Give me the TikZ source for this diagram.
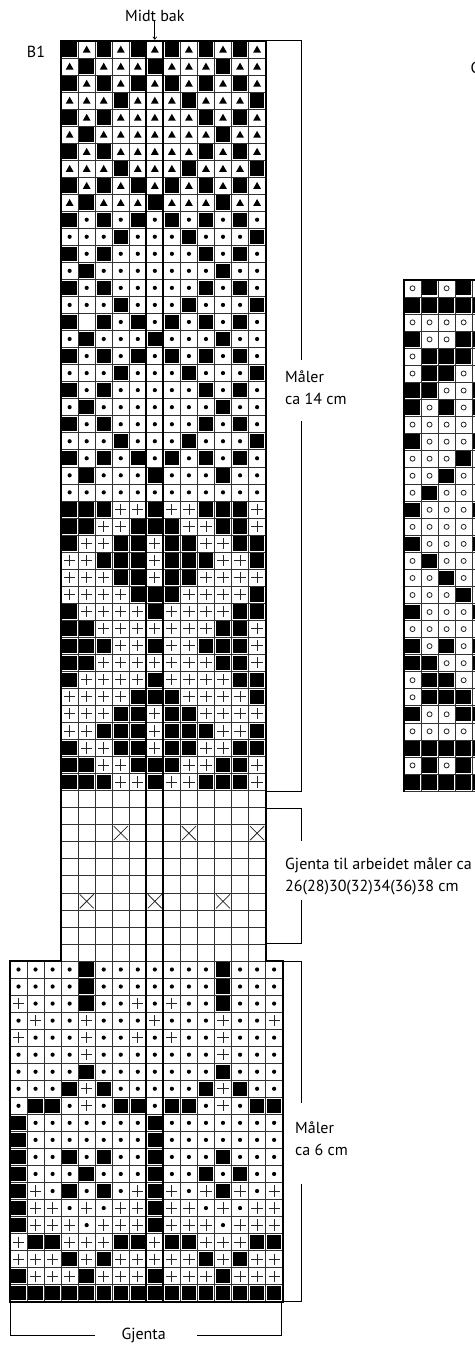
\documentclass[tikz,border=0pt]{standalone}
\usepackage{fontspec}
\setmainfont{PT Sans}
\usetikzlibrary{arrows.meta}

% cell symbols, called with the cell centre
\newcommand\cellK[2]{\fill (#1-7.2,#2-7.2) rectangle (#1+7.2,#2+7.2);}
\newcommand\cellT[2]{\fill (#1-3.9,#2+3.2) -- (#1+3.9,#2+3.2) -- (#1,#2-3.7) -- cycle;}
\newcommand\cellD[2]{\fill (#1,#2) circle (2.1pt);}
\newcommand\cellP[2]{\draw[symline] (#1-5.6,#2) -- (#1+5.6,#2) (#1,#2-5.6) -- (#1,#2+5.6);}
\newcommand\cellX[2]{\draw[symline] (#1-7,#2-7) -- (#1+7,#2+7) (#1-7,#2+7) -- (#1+7,#2-7);}
\newcommand\cellC[2]{\draw[symline] (#1,#2) circle (2.5pt);}
\newcommand\cellO[2]{}

\tikzset{
  symline/.style={line width=0.8pt,black!85},
  gridln/.style={line width=0.6pt,black!80},
  frame/.style={line width=2.2pt,line cap=rect},
  brk/.style={line width=0.7pt},
  lbl/.style={font=\fontsize{16}{22}\selectfont,inner sep=0pt}
}

\begin{document}
\begin{tikzpicture}[x=1pt,y=-1pt]
\useasboundingbox (0,0) rectangle (474,1347);
\def\cw{17.04}
\def\ux{61.12}  \def\uy{40.8}   % upper chart (12 wide, 54 high)
\def\lx{10}     \def\ly{960.96} % lower chart (16 wide, 20 high)
\def\kx{404}    \def\ky{279.76} % chart C (5 wide, 30 high)

% --- grid lines ---
\foreach \i in {0,...,12}
  \draw[gridln] (\ux+\i*\cw,\uy) -- (\ux+\i*\cw,\ly);
\foreach \j in {0,...,54}
  \draw[gridln] (\ux,\uy+\j*\cw) -- (\ux+12*\cw,\uy+\j*\cw);
\foreach \i in {0,...,16}
  \draw[gridln] (\lx+\i*\cw,\ly) -- (\lx+\i*\cw,\ly+20*\cw);
\foreach \j in {0,...,20}
  \draw[gridln] (\lx,\ly+\j*\cw) -- (\lx+16*\cw,\ly+\j*\cw);
\foreach \i in {0,...,5}
  \draw[gridln] (\kx+\i*\cw,\ky) -- (\kx+\i*\cw,\ky+30*\cw);
\foreach \j in {0,...,30}
  \draw[gridln] (\kx,\ky+\j*\cw) -- (\kx+5*\cw,\ky+\j*\cw);

% --- upper chart B1 ---
\foreach \rowdata [count=\r] in {
  {K,T,K,T,K,T,K,T,K,T,K,T},{T,K,T,T,T,K,T,T,T,K,T,T},
  {K,T,K,T,K,T,K,T,K,T,K,T},{T,T,T,K,T,T,T,K,T,T,T,K},
  {K,T,K,T,T,T,T,T,K,T,K,T},{T,K,T,T,T,T,T,T,T,K,T,T},
  {K,T,K,T,T,T,T,T,K,T,K,T},{T,T,T,K,T,T,T,K,T,T,T,K},
  {K,T,K,T,K,T,K,T,K,T,K,T},{T,K,T,T,T,K,T,T,T,K,T,T},
  {K,D,K,D,K,D,K,D,K,D,K,D},{D,D,D,K,D,D,D,K,D,D,D,K},
  {K,D,K,D,D,D,D,D,K,D,K,D},{D,K,D,D,D,D,D,D,D,K,D,D},
  {K,D,K,D,D,D,D,D,K,D,K,D},{D,D,D,K,D,D,D,K,D,D,D,K},
  {K,O,K,D,K,D,K,D,K,D,K,D},{D,K,D,D,D,K,D,D,D,K,D,D},
  {K,D,K,D,K,D,K,D,K,D,K,D},{D,D,D,K,D,D,D,K,D,D,D,K},
  {K,D,K,D,D,D,D,D,K,D,K,D},{D,K,D,D,D,D,D,D,D,K,D,D},
  {K,D,K,D,D,D,D,D,K,D,K,D},{D,D,D,K,D,D,D,K,D,D,D,K},
  {K,D,K,D,K,D,K,D,K,D,K,D},{D,K,D,D,D,K,D,D,D,K,D,D},
  {D,D,D,D,D,D,D,D,D,D,D,D},
  {K,K,K,P,P,K,P,P,K,K,K,P},{K,K,P,P,K,K,K,P,P,K,K,P},
  {K,P,P,K,K,P,K,K,P,P,K,K},{P,P,K,K,K,P,K,K,K,P,P,K},
  {P,P,P,K,K,P,K,K,P,P,P,P},{P,P,P,P,K,K,K,P,P,P,P,K},
  {K,P,P,P,P,K,P,P,P,P,K,K},{K,K,P,P,P,P,P,P,P,K,K,P},
  {K,K,K,P,P,K,P,P,K,K,K,P},
  {K,K,P,P,P,P,P,P,P,K,K,P},{K,P,P,P,P,K,P,P,P,P,K,K},
  {P,P,P,P,K,K,K,P,P,P,P,K},{P,P,P,K,K,P,K,K,P,P,P,P},
  {P,P,K,K,K,P,K,K,K,P,P,K},{K,P,P,K,K,P,K,K,P,P,K,K},
  {K,K,P,P,K,K,K,P,P,K,K,P},{K,K,K,P,P,K,P,P,K,K,K,P},
  {O,O,O,O,O,O,O,O,O,O,O,O},{O,O,O,O,O,O,O,O,O,O,O,O},
  {O,O,O,X,O,O,O,X,O,O,O,X},{O,O,O,O,O,O,O,O,O,O,O,O},
  {O,O,O,O,O,O,O,O,O,O,O,O},{O,O,O,O,O,O,O,O,O,O,O,O},
  {O,X,O,O,O,X,O,O,O,X,O,O}}{
  \foreach \s [count=\c] in \rowdata {
    \pgfmathsetmacro\px{\ux+(\c-0.5)*\cw}
    \pgfmathsetmacro\py{\uy+(\r-0.5)*\cw}
    \csname cell\s\endcsname{\px}{\py}
  }
}

% --- lower chart ---
\foreach \rowdata [count=\r] in {
  {D,D,D,D,K,D,D,D,D,D,D,D,K,D,D,D},{D,D,D,D,K,D,D,D,D,D,D,D,K,D,D,D},
  {P,D,D,D,K,D,D,P,D,P,D,D,K,D,D,D},{D,P,D,D,P,D,D,D,P,D,D,D,P,D,D,P},
  {P,D,D,D,P,D,D,P,D,P,D,D,P,D,D,D},{D,D,D,D,P,D,D,D,D,D,D,D,P,D,D,D},
  {D,D,D,D,K,D,D,D,D,D,D,D,K,D,D,D},{D,D,D,K,P,K,D,D,D,D,D,K,P,K,D,D},
  {D,K,K,D,P,D,K,K,D,K,K,D,P,D,K,K},{K,D,D,D,D,D,D,D,K,D,D,D,D,D,D,D},
  {K,D,D,D,D,D,D,D,K,D,D,D,D,D,D,D},{K,D,D,K,D,K,D,D,K,D,D,D,K,D,D,D},
  {K,D,D,D,K,D,D,D,K,D,D,K,D,K,D,D},{K,P,D,K,D,K,D,P,K,P,D,P,K,P,D,P},
  {K,P,P,D,P,D,P,P,K,P,P,D,P,D,P,P},{K,P,P,P,D,P,P,P,K,P,P,P,D,P,P,P},
  {P,K,K,P,P,P,K,K,P,K,K,P,P,P,K,K},{P,P,P,K,P,K,P,P,P,P,P,K,P,K,P,P},
  {K,P,P,P,K,P,P,P,K,P,P,P,K,P,P,P},{K,K,K,K,K,K,K,K,K,K,K,K,K,K,K,K}}{
  \foreach \s [count=\c] in \rowdata {
    \pgfmathsetmacro\px{\lx+(\c-0.5)*\cw}
    \pgfmathsetmacro\py{\ly+(\r-0.5)*\cw}
    \csname cell\s\endcsname{\px}{\py}
  }
}

% --- chart C (cut at the right edge) ---
\foreach \rowdata [count=\r] in {
  {C,K,C,K,C},{K,K,K,K,K},{C,C,C,C,C},{K,C,C,K,K},{C,K,K,K,C},
  {C,K,K,C,C},{K,K,C,C,K},{K,C,K,C,K},{C,C,C,C,C},{K,C,C,C,K},
  {C,C,C,K,C},{C,C,K,C,C},{C,K,C,C,C},{K,C,C,C,K},{C,C,C,C,C},
  {K,C,C,C,K},{C,K,C,C,C},{C,C,K,C,C},{C,C,C,K,C},{K,C,C,C,K},
  {C,C,C,C,C},{K,C,K,C,K},{K,K,C,C,K},{C,K,K,C,C},{C,K,K,K,C},
  {K,C,C,K,K},{C,C,C,C,C},{K,K,K,K,K},{C,K,C,K,C},{K,K,K,K,K}}{
  \foreach \s [count=\c] in \rowdata {
    \pgfmathsetmacro\px{\kx+(\c-0.5)*\cw}
    \pgfmathsetmacro\py{\ky+(\r-0.5)*\cw}
    \csname cell\s\endcsname{\px}{\py}
  }
}

% --- heavy outlines ---
\draw[frame] (\ux,\ly) -- (\ux,\uy) -- (\ux+12*\cw,\uy) -- (\ux+12*\cw,\ly);
\draw[frame] (\ux,\ly) -- (\lx,\ly) -- (\lx,\ly+20*\cw) -- (\lx+16*\cw,\ly+20*\cw)
  -- (\lx+16*\cw,\ly) -- (\ux+12*\cw,\ly);
\draw[frame] (\ux+5*\cw,\uy) -- (\ux+5*\cw,\ly+20*\cw);
\draw[frame] (\ux+6*\cw,\uy) -- (\ux+6*\cw,\ly+20*\cw);
\draw[frame] (\kx,\ky+30*\cw) -- (\kx,\ky) -- (480,\ky);

% --- labels ---
\node[lbl] (b1) at (36,52) {B1};
\node[lbl,anchor=west] (c1) at (470.5,68) {C1};
\node[lbl] (midt) at (\ux+5.5*\cw,15.5) {Midt bak};
\coordinate (midtpt) at (\ux+5.5*\cw,\uy-1);
\draw[brk,-{Straight Barb[length=2.5pt,width=4pt]}] (midt) -- (midtpt);

% bracket: upper patterned part
\node[lbl,align=left,anchor=west] (m14) at (285,388) {Måler\\ca 14 cm};
\coordinate (m14a) at (\ux+12*\cw,\uy);
\coordinate (m14b) at (\ux+12*\cw,790.96);
\draw[brk] (m14a) -- (301.3,\uy) -- (301.3,360);
\draw[brk] (301.3,421) -- (301.3,790.96) -- (m14b);

% bracket: plain repeat part
\node[lbl,align=left,anchor=west] (rep) at (285,876) {Gjenta til arbeidet måler ca\\26(28)30(32)34(36)38 cm};
\coordinate (repa) at (\ux+12*\cw,808);
\coordinate (repb) at (\ux+12*\cw,943);
\draw[brk] (repa) -- (301.3,808) -- (301.3,841);
\draw[brk] (301.3,900) -- (301.3,943) -- (repb);

% bracket: lower chart
\node[lbl,align=left,anchor=west] (m6) at (295,1138.5) {Måler\\ca 6 cm};
\coordinate (m6a) at (\lx+16*\cw,\ly);
\coordinate (m6b) at (\lx+16*\cw,\ly+20*\cw);
\draw[brk] (m6a) -- (301.3,\ly) -- (301.3,1103);
\draw[brk] (301.3,1184) -- (301.3,\ly+20*\cw) -- (m6b);

% bottom repeat bracket
\node[lbl] (gj) at (143.7,1335) {Gjenta};
\coordinate (gja) at (\lx,\ly+20*\cw);
\coordinate (gjb) at (281.7,\ly+20*\cw);
\draw[brk] (gja) -- (\lx,1335) -- (95,1335);
\draw[brk] (197,1335) -- (281.7,1335) -- (gjb);
\end{tikzpicture}
\end{document}
